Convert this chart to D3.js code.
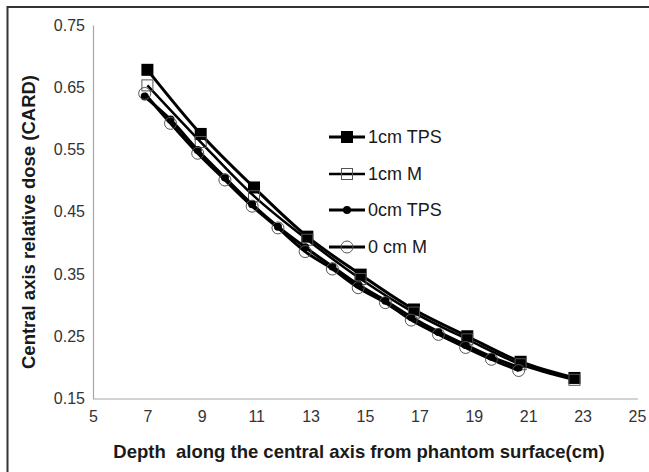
<!DOCTYPE html>
<html lang="en">
<head>
  <meta charset="UTF-8">
  <title>Central axis relative dose vs depth</title>
  <script src="https://d3js.org/d3.v7.min.js"></script>
  <style>
    body {
      margin: 0;
      background: #fff;
    }
    svg {
      display: block;
      font-family: "Liberation Sans", Arial, sans-serif;
    }
    .tick text {
      fill: #333;
      font-size: 16px;
    }
    .axis-title {
      font-weight: bold;
      font-size: 18.5px;
      fill: #1a1a1a;
    }
    .legend text {
      font-size: 18px;
      fill: #1a1a1a;
    }
  </style>
</head>
<body>
  <svg id="chart"></svg>

  <script>
    // values
    const depth1cm = [7, 8.96, 10.92, 12.88, 14.84, 16.8, 18.76, 20.72, 22.7];
    const tps1cm   = [0.678, 0.575, 0.489, 0.410, 0.349, 0.293, 0.250, 0.209, 0.183];
    const meas1cm  = [0.653, 0.562, 0.475, 0.405, 0.342, 0.288, 0.245, 0.205, 0.180];

    const depth0cm = [6.9, 7.85, 8.85, 9.85, 10.85, 11.8, 12.8, 13.8, 14.75, 15.75, 16.7, 17.7, 18.7, 19.65, 20.65];
    const tps0cm   = [0.635, 0.598, 0.549, 0.505, 0.462, 0.426, 0.393, 0.362, 0.333, 0.307, 0.281, 0.257, 0.236, 0.217, 0.200];
    const meas0cm  = [0.640, 0.592, 0.544, 0.501, 0.459, 0.424, 0.386, 0.358, 0.328, 0.304, 0.276, 0.253, 0.232, 0.213, 0.195];

    const xTicks = [5, 7, 9, 11, 13, 15, 17, 19, 21, 23, 25];
    const yTicks = [0.15, 0.25, 0.35, 0.45, 0.55, 0.65, 0.75];

    const seriesNames = ["1cm TPS", "1cm M", "0cm TPS", "0 cm M"];

    const width = 649, height = 472;

    const svg = d3.select("#chart")
      .attr("width", width)
      .attr("height", height);

    svg.append("rect")
      .attr("width", width)
      .attr("height", height)
      .attr("fill", "#fff");

    // outer frame (only top and left edges are inside the picture)
    svg.append("path")
      .attr("d", `M7.5,${height} V7 H${width}`)
      .attr("fill", "none")
      .attr("stroke", "#333")
      .attr("stroke-width", 2);

    const x = d3.scaleLinear().domain([5, 25]).range([93, 637]);
    const y = d3.scaleLinear().domain([0.15, 0.75]).range([398.5, 25]);

    // axes
    const xAxis = svg.append("g")
      .attr("transform", `translate(0,${y(0.15)})`)
      .call(d3.axisBottom(x).tickValues(xTicks).tickSize(0).tickPadding(12).tickFormat(d3.format("d")));

    const yAxis = svg.append("g")
      .attr("transform", `translate(${x(5)},0)`)
      .call(d3.axisLeft(y).tickValues(yTicks).tickSize(0).tickPadding(8).tickFormat(d3.format(".2f")));

    [xAxis, yAxis].forEach(a => {
      a.select(".domain").attr("stroke", "#a6a6a6").attr("stroke-width", 1.2);
      a.selectAll(".tick text").attr("font-family", null).attr("font-size", null);
    });
    xAxis.select(".domain").attr("d", `M${x(5)},0.5H638`);

    // axis titles
    svg.append("text")
      .attr("class", "axis-title")
      .attr("x", 359)
      .attr("y", 458)
      .attr("text-anchor", "middle")
      .attr("xml:space", "preserve")
      .text("Depth  along the central axis from phantom surface(cm)");

    svg.append("text")
      .attr("class", "axis-title")
      .attr("transform", "translate(35,222) rotate(-90)")
      .attr("text-anchor", "middle")
      .text("Central axis relative dose (CARD)");

    // series
    const series = [
      { name: seriesNames[0], xs: depth1cm, ys: tps1cm, marker: "fsquare", lw: 3 },
      { name: seriesNames[1], xs: depth1cm, ys: meas1cm, marker: "osquare", lw: 2.5 },
      { name: seriesNames[2], xs: depth0cm, ys: tps0cm, marker: "dot", lw: 3 },
      { name: seriesNames[3], xs: depth0cm, ys: meas0cm, marker: "ocircle", lw: 3 }
    ];

    const line = d3.line()
      .x(d => x(d[0]))
      .y(d => y(d[1]))
      .curve(d3.curveCatmullRom.alpha(0.5));

    function drawMarker(g, type, cx, cy) {
      if (type === "fsquare") {
        g.append("rect").attr("x", cx - 6).attr("y", cy - 6).attr("width", 12).attr("height", 12)
          .attr("fill", "#000");
      } else if (type === "osquare") {
        g.append("rect").attr("x", cx - 5.5).attr("y", cy - 5.5).attr("width", 11).attr("height", 11)
          .attr("fill", "none").attr("stroke", "#555").attr("stroke-width", 1);
      } else if (type === "dot") {
        g.append("circle").attr("cx", cx).attr("cy", cy).attr("r", 4).attr("fill", "#000");
      } else {
        g.append("circle").attr("cx", cx).attr("cy", cy).attr("r", 6)
          .attr("fill", "none").attr("stroke", "#555").attr("stroke-width", 1);
      }
    }

    series.forEach(s => {
      const pts = s.xs.map((d, i) => [d, s.ys[i]]);
      const g = svg.append("g");
      g.append("path")
        .datum(pts)
        .attr("d", line)
        .attr("fill", "none")
        .attr("stroke", "#000")
        .attr("stroke-width", s.lw);
      pts.forEach(p => drawMarker(g, s.marker, x(p[0]), y(p[1])));
    });

    // legend
    const legendRows = [137, 174, 210, 247];
    const legend = svg.append("g").attr("class", "legend");
    series.forEach((s, i) => {
      const ly = legendRows[i];
      const row = legend.append("g");
      row.append("line")
        .attr("x1", 329).attr("x2", 365)
        .attr("y1", ly).attr("y2", ly)
        .attr("stroke", "#000")
        .attr("stroke-width", s.lw);
      drawMarker(row, s.marker, 347, ly);
      row.append("text")
        .attr("x", 368)
        .attr("y", ly)
        .attr("dy", "0.35em")
        .text(s.name);
    });
  </script>
</body>
</html>
